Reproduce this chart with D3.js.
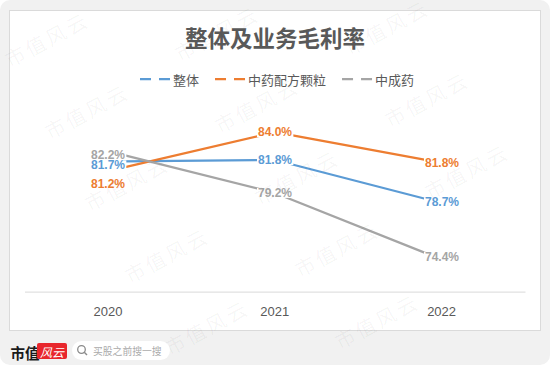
<!DOCTYPE html>
<html><head><meta charset="utf-8">
<script src="https://cdn.jsdelivr.net/npm/d3@7"></script>
<style>
html,body{margin:0;padding:0;background:#fff;}
svg{display:block;font-family:"Noto Sans CJK SC","Noto Sans",sans-serif;}
</style></head>
<body><svg id="c" width="550" height="365"></svg>
<script>
const years = ["2020", "2021", "2022"];
const seriesNames = ["整体", "中药配方颗粒", "中成药"];
const overall = [81.7, 81.8, 78.7];
const granules = [81.2, 84.0, 81.8];
const patentMed = [82.2, 79.2, 74.4];
const title = "整体及业务毛利率";

const colors = ["#5b9bd5", "#ed7d31", "#a5a5a5"];
const series = [
  {name: seriesNames[0], values: overall, color: colors[0], dy0: 4},
  {name: seriesNames[1], values: granules, color: colors[1], dy0: 16},
  {name: seriesNames[2], values: patentMed, color: colors[2], dy0: 0}
];

const svg = d3.select("#c");
svg.append("rect").attr("x",0).attr("y",0).attr("width",550).attr("height",365)
  .attr("rx",10).attr("fill","#f1f1f1");
svg.append("rect").attr("x",9.5).attr("y",10.5).attr("width",531).attr("height",320)
  .attr("fill","#fff").attr("stroke","#dadada").attr("stroke-width",1);

svg.append("text").attr("x",275).attr("y",37).attr("text-anchor","middle")
  .attr("dominant-baseline","central").attr("font-size",22.5).attr("font-weight","bold")
  .attr("fill","#595959").text(title);

const lg = svg.append("g");
let lx = 140;
series.forEach(s => {
  lg.append("line").attr("x1",lx).attr("x2",lx+30).attr("y1",79).attr("y2",79)
    .attr("stroke",s.color).attr("stroke-width",2.25).attr("stroke-dasharray","11,8");
  const t = lg.append("text").attr("x",lx+33).attr("y",79).attr("dominant-baseline","central")
    .attr("font-size",13).attr("fill","#595959").text(s.name);
  lx += 33 + t.node().getComputedTextLength() + 16;
});

const xBand = d3.scaleBand().domain(years).range([24.5, 525]);
const xPt = d3.scalePoint().domain(years).range([123, 427]);
const y = d3.scaleLinear().domain([71.4, 86.6]).range([291.6, 99.3]);

const ax = svg.append("g").attr("transform","translate(0,291.6)")
  .call(d3.axisBottom(xBand).tickSize(0).tickSizeOuter(0));
ax.select(".domain").attr("stroke","#d9d9d9").attr("stroke-width",1);
ax.selectAll("text").attr("y",20).attr("dy","0.35em").attr("font-size",13)
  .attr("fill","#595959").attr("font-family","'Liberation Sans',Arial,sans-serif");

const line = d3.line().x((d,i) => xPt(years[i])).y(d => y(d));
series.forEach(s => {
  svg.append("path").datum(s.values).attr("d", line).attr("fill","none")
    .attr("stroke", s.color).attr("stroke-width", 2.25).attr("stroke-linejoin","round");
});

const labG = svg.append("g");
series.forEach(s => {
  s.values.forEach((v,i) => {
    const px = xPt(years[i]), py = y(v);
    let x = px, anchor = "middle", dy = 0;
    if (i === 0) { x = px + 2; anchor = "end"; dy = s.dy0; }
    else if (i === 2) { x = px - 2; anchor = "start"; dy = 3; }
    const g = labG.append("g");
    const bg = g.append("rect").attr("fill","#fff");
    const t = g.append("text").attr("x", x).attr("y", py + dy).attr("text-anchor", anchor)
      .attr("dominant-baseline","central").attr("font-size",12).attr("font-weight","bold")
      .attr("font-family","'Liberation Sans',Arial,sans-serif")
      .attr("fill", s.color).text(v.toFixed(1) + "%");
    const b = t.node().getBBox();
    bg.attr("x", b.x - 1).attr("y", b.y + 2).attr("width", b.width + 2).attr("height", b.height - 4);
  });
});

const wm = svg.append("g").attr("pointer-events","none");
for (let i = -3; i <= 4; i++) {
  for (let j = -3; j <= 5; j++) {
    const wx = 50 + i*170 + j*40, wy = 140 - i*6 + j*72;
    if (wx < 2 || wx > 455 || wy < 50 || wy > 362) continue;
    wm.append("text").attr("transform",`translate(${wx},${wy}) rotate(-28)`)
      .attr("font-size",20).attr("letter-spacing",3).attr("fill","#000")
      .attr("fill-opacity",0.045).text("市值风云");
  }
}

svg.append("text").attr("x",10.5).attr("y",352).attr("dominant-baseline","central")
  .attr("font-size",14.5).attr("font-weight","bold").attr("fill","#1a1a1a").text("市值");
svg.append("rect").attr("x",37).attr("y",343).attr("width",30).attr("height",16).attr("rx",2)
  .attr("fill","#e8262c");
svg.append("text").attr("x",52).attr("y",351.5).attr("text-anchor","middle")
  .attr("dominant-baseline","central").attr("font-size",12).attr("font-style","italic")
  .attr("fill","#fff").text("风云");
svg.append("rect").attr("x",72).attr("y",341).attr("width",98).attr("height",19).attr("rx",9.5)
  .attr("fill","#fff");
svg.append("circle").attr("cx",81.5).attr("cy",349.5).attr("r",3.8).attr("fill","none")
  .attr("stroke","#8a8a8a").attr("stroke-width",1.3);
svg.append("line").attr("x1",84.3).attr("y1",352.3).attr("x2",87).attr("y2",355)
  .attr("stroke","#8a8a8a").attr("stroke-width",1.4);
svg.append("text").attr("x",93).attr("y",350.5).attr("dominant-baseline","central")
  .attr("font-size",9.8).attr("fill","#aaaaaa").text("买股之前搜一搜");
</script></body></html>
